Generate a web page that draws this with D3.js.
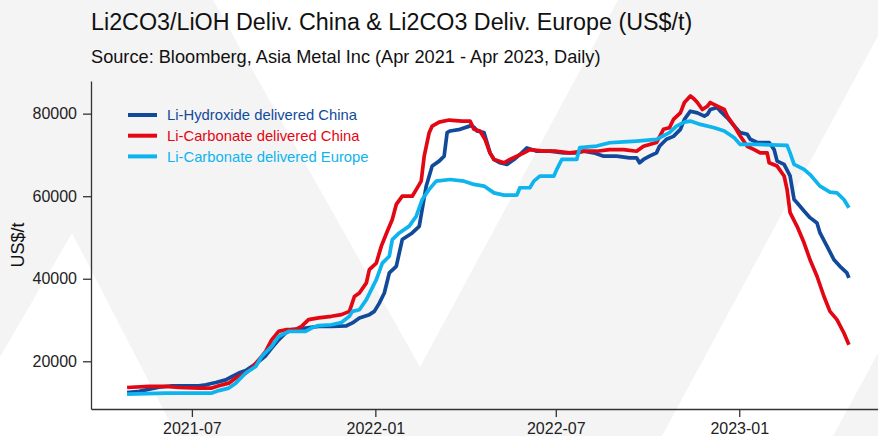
<!DOCTYPE html>
<html>
<head>
<meta charset="utf-8">
<script src="https://cdn.jsdelivr.net/npm/d3@7"></script>
<style>
	body { margin: 0; background: #fff; }
	svg { display: block; font-family: "Liberation Sans", Arial, sans-serif; }
</style>
</head>
<body>
<svg id="chart" width="878" height="436"></svg>
<script>
// Series, [date, US$/t]
const hydroxide = [
	["2021-04-27", 12400], ["2021-05-09", 12700], ["2021-05-29", 13700], ["2021-06-11", 14050],
	["2021-07-08", 14050], ["2021-07-15", 14300], ["2021-07-25", 14850], ["2021-08-04", 15500],
	["2021-08-10", 16300], ["2021-08-17", 17150], ["2021-08-24", 17750], ["2021-08-30", 18750],
	["2021-09-06", 19950], ["2021-09-13", 21350], ["2021-09-19", 23200], ["2021-09-26", 25200],
	["2021-10-03", 26850], ["2021-10-09", 27650], ["2021-10-23", 28050], ["2021-11-05", 28450],
	["2021-11-18", 28450], ["2021-12-03", 28600], ["2021-12-09", 29300], ["2021-12-16", 30500],
	["2021-12-26", 31300], ["2021-12-31", 32100], ["2022-01-05", 34100], ["2022-01-10", 36550],
	["2022-01-15", 41400], ["2022-01-22", 43000], ["2022-01-28", 49500], ["2022-02-07", 51100],
	["2022-02-14", 52700], ["2022-02-21", 62400], ["2022-02-27", 67300], ["2022-03-06", 68500],
	["2022-03-11", 69700], ["2022-03-14", 75400], ["2022-03-17", 75800], ["2022-03-27", 76200],
	["2022-04-07", 77100], ["2022-04-10", 76700], ["2022-04-13", 75800], ["2022-04-20", 75400],
	["2022-04-23", 73000], ["2022-04-26", 70500], ["2022-04-30", 68900], ["2022-05-06", 68100],
	["2022-05-13", 67700], ["2022-05-20", 68900], ["2022-05-26", 70100], ["2022-06-02", 71700],
	["2022-06-12", 70900], ["2022-06-25", 70900], ["2022-07-09", 70500], ["2022-07-22", 70500],
	["2022-07-29", 70900], ["2022-08-08", 70500], ["2022-08-18", 69700], ["2022-08-31", 69700],
	["2022-09-13", 69300], ["2022-09-20", 69300], ["2022-09-23", 68100], ["2022-09-27", 68900],
	["2022-10-03", 69700], ["2022-10-10", 70500], ["2022-10-13", 72100], ["2022-10-20", 73800],
	["2022-10-27", 74500], ["2022-11-03", 76200], ["2022-11-07", 78600], ["2022-11-13", 80600],
	["2022-11-20", 80200], ["2022-11-27", 79400], ["2022-11-30", 79800], ["2022-12-03", 81000],
	["2022-12-10", 81500], ["2022-12-13", 80600], ["2022-12-20", 79000], ["2022-12-27", 77000],
	["2023-01-02", 75400], ["2023-01-09", 75000], ["2023-01-12", 73800], ["2023-01-19", 73000],
	["2023-01-31", 73000], ["2023-02-05", 71300], ["2023-02-08", 68500], ["2023-02-15", 67700],
	["2023-02-21", 64900], ["2023-02-25", 59200], ["2023-02-28", 58400], ["2023-03-07", 56400],
	["2023-03-13", 54800], ["2023-03-20", 53500], ["2023-03-23", 51100], ["2023-03-30", 47900],
	["2023-04-06", 44600], ["2023-04-12", 43000], ["2023-04-19", 41400], ["2023-04-21", 40200],
]

const carbonateChina = [
	["2021-04-27", 13650], ["2021-05-19", 13900], ["2021-06-05", 13900], ["2021-06-18", 13650],
	["2021-07-08", 13500], ["2021-07-21", 13500], ["2021-07-28", 14050], ["2021-08-07", 14700],
	["2021-08-14", 15950], ["2021-08-24", 17150], ["2021-08-30", 18350], ["2021-09-06", 20350],
	["2021-09-13", 22400], ["2021-09-19", 25200], ["2021-09-26", 27250], ["2021-10-03", 27650],
	["2021-10-13", 27650], ["2021-10-19", 28450], ["2021-10-26", 30100], ["2021-11-05", 30500],
	["2021-11-18", 30900], ["2021-11-28", 31300], ["2021-12-06", 32100], ["2021-12-11", 35700],
	["2021-12-16", 36550], ["2021-12-23", 39000], ["2021-12-26", 42200], ["2022-01-02", 43800],
	["2022-01-07", 47900], ["2022-01-13", 51500], ["2022-01-18", 54350], ["2022-01-22", 58000],
	["2022-01-28", 60000], ["2022-02-07", 60000], ["2022-02-11", 61600], ["2022-02-16", 63650],
	["2022-02-19", 69700], ["2022-02-24", 75400], ["2022-02-27", 77000], ["2022-03-06", 77950],
	["2022-03-16", 78450], ["2022-03-29", 78200], ["2022-04-06", 78200], ["2022-04-10", 76200],
	["2022-04-16", 75800], ["2022-04-21", 73800], ["2022-04-26", 70500], ["2022-04-30", 68900],
	["2022-05-10", 68100], ["2022-05-16", 68900], ["2022-05-23", 69700], ["2022-05-30", 70500],
	["2022-06-05", 71300], ["2022-06-19", 70900], ["2022-07-02", 70900], ["2022-07-15", 70500],
	["2022-07-29", 70900], ["2022-08-11", 70900], ["2022-08-24", 71300], ["2022-09-07", 71300],
	["2022-09-20", 70900], ["2022-09-27", 72100], ["2022-10-10", 73000], ["2022-10-17", 76200],
	["2022-10-23", 76600], ["2022-10-27", 78600], ["2022-11-03", 80200], ["2022-11-07", 82700],
	["2022-11-13", 84300], ["2022-11-17", 83500], ["2022-11-20", 82700], ["2022-11-25", 81000],
	["2022-11-30", 81800], ["2022-12-03", 82700], ["2022-12-10", 81800], ["2022-12-17", 81000],
	["2022-12-20", 79400], ["2022-12-27", 77000], ["2023-01-02", 74600], ["2023-01-09", 72100],
	["2023-01-16", 71300], ["2023-01-22", 70500], ["2023-01-29", 70500], ["2023-01-31", 68100],
	["2023-02-08", 67300], ["2023-02-15", 64900], ["2023-02-18", 61600], ["2023-02-21", 56000],
	["2023-02-28", 52700], ["2023-03-07", 48700], ["2023-03-13", 44600], ["2023-03-20", 40600],
	["2023-03-27", 35700], ["2023-04-02", 32100], ["2023-04-09", 30100], ["2023-04-16", 26850],
	["2023-04-21", 24000],
]

const carbonateEurope = [
	["2021-04-27", 12050], ["2021-06-05", 12300], ["2021-07-21", 12300], ["2021-07-28", 12900],
	["2021-08-07", 13500], ["2021-08-14", 14700], ["2021-08-24", 17150], ["2021-09-03", 18750],
	["2021-09-09", 21150], ["2021-09-19", 23600], ["2021-09-26", 26000], ["2021-10-06", 27250],
	["2021-10-23", 27250], ["2021-10-29", 28050], ["2021-11-05", 28650], ["2021-11-18", 28850],
	["2021-11-28", 29400], ["2021-12-06", 30900], ["2021-12-09", 32100], ["2021-12-16", 32500],
	["2021-12-23", 34950], ["2021-12-28", 37350], ["2022-01-02", 39800], ["2022-01-08", 43800],
	["2022-01-15", 45450], ["2022-01-18", 49500], ["2022-01-25", 51100], ["2022-02-04", 52750],
	["2022-02-11", 55150], ["2022-02-17", 59200], ["2022-02-24", 61650], ["2022-03-03", 63650],
	["2022-03-17", 64050], ["2022-03-31", 63650], ["2022-04-10", 62850], ["2022-04-20", 62450],
	["2022-04-30", 60800], ["2022-05-10", 60250], ["2022-05-23", 60250], ["2022-05-26", 62050],
	["2022-06-05", 62050], ["2022-06-09", 63650], ["2022-06-15", 64850], ["2022-06-29", 64850],
	["2022-07-02", 66500], ["2022-07-07", 68900], ["2022-07-22", 68900], ["2022-07-25", 71750],
	["2022-08-11", 72150], ["2022-08-24", 72950], ["2022-09-07", 73150], ["2022-09-20", 73350],
	["2022-10-10", 73750], ["2022-10-23", 75400], ["2022-10-30", 77000], ["2022-11-07", 77950],
	["2022-11-13", 78200], ["2022-11-23", 77400], ["2022-12-07", 76600], ["2022-12-17", 75800],
	["2022-12-27", 74150], ["2023-01-02", 72550], ["2023-01-19", 72550], ["2023-02-18", 72300],
	["2023-02-21", 70500], ["2023-02-25", 67700], ["2023-03-07", 66500], ["2023-03-13", 65250],
	["2023-03-23", 62450], ["2023-04-02", 61000], ["2023-04-09", 60800], ["2023-04-16", 59200],
	["2023-04-21", 57200],
]

const seriesNames = ["Li-Hydroxide delivered China", "Li-Carbonate delivered China", "Li-Carbonate delivered Europe"]
const seriesColours = ["#124a9b", "#e30613", "#0db4ee"]
const yTicks = [20000, 40000, 60000, 80000]
const xTicks = ["2021-07-01", "2022-01-01", "2022-07-01", "2023-01-01"]

const parse = d3.timeParse("%Y-%m-%d")
const series = [hydroxide, carbonateChina, carbonateEurope].map((rows, i) => ({
	name: seriesNames[i],
	colour: seriesColours[i],
	values: rows.map(([d, v]) => ({ date: parse(d), value: v })),
}))

const width = 878
const height = 436
const panel = { left: 91, right: 885, top: 81, bottom: 409 }

const svg = d3.select("#chart")

// Background: light grey with white chevrons
svg.append("rect")
	.attr("width", width)
	.attr("height", height)
	.attr("fill", "#f4f4f4")
const shapes = [
	[[213, 0], [618, 0], [420, 367]],
	[[72, 233], [177, 436], [0, 436], [0, 357]],
	[[662, 436], [833, 436], [878, 353], [878, 36]],
]
svg.append("g")
	.selectAll("polygon")
	.data(shapes)
	.join("polygon")
	.attr("points", d => d.map(p => p.join(",")).join(" "))
	.attr("fill", "#fff")

// Scales with ggplot-style 5% expansion
const all = series.flatMap(s => s.values)
const expand = (lo, hi) => [lo - (hi - lo) * 0.05, hi + (hi - lo) * 0.05]
const [d0, d1] = d3.extent(all, d => d.date)
const [xLo, xHi] = expand(+d0, +d1)
const [yLo, yHi] = expand(...d3.extent(all, d => d.value))

const x = d3.scaleTime()
	.domain([new Date(xLo), new Date(xHi)])
	.range([panel.left, panel.right])
const y = d3.scaleLinear()
	.domain([yLo, yHi])
	.range([panel.bottom, panel.top])

// Titles
svg.append("text")
	.attr("x", 91)
	.attr("y", 30)
	.attr("font-size", 23.3)
	.attr("fill", "#111")
	.text("Li2CO3/LiOH Deliv. China & Li2CO3 Deliv. Europe (US$/t)")
svg.append("text")
	.attr("x", 91)
	.attr("y", 63)
	.attr("font-size", 18.2)
	.attr("fill", "#111")
	.text("Source: Bloomberg, Asia Metal Inc (Apr 2021 - Apr 2023, Daily)")

// Lines
const line = d3.line()
	.x(d => x(d.date))
	.y(d => y(d.value))
svg.append("g")
	.selectAll("path")
	.data(series)
	.join("path")
	.attr("d", d => line(d.values))
	.attr("fill", "none")
	.attr("stroke", d => d.colour)
	.attr("stroke-width", 3.7)
	.attr("stroke-linejoin", "round")

// Axes
const styleAxis = g => {
	g.selectAll("path, line")
		.attr("stroke", "#333")
		.attr("stroke-width", 1.3)
	g.selectAll("text")
		.attr("font-size", 16)
		.attr("fill", "#222")
		.attr("font-family", "Liberation Sans, Arial, sans-serif")
}
svg.append("g")
	.attr("transform", `translate(${panel.left},0)`)
	.call(d3.axisLeft(y)
		.tickValues(yTicks)
		.tickFormat(d3.format("d"))
		.tickSize(8)
		.tickSizeOuter(0)
		.tickPadding(6))
	.call(styleAxis)
svg.append("g")
	.attr("transform", `translate(0,${panel.bottom})`)
	.call(d3.axisBottom(x)
		.tickValues(xTicks.map(parse))
		.tickFormat(d3.timeFormat("%Y-%m"))
		.tickSize(8)
		.tickSizeOuter(0)
		.tickPadding(6))
	.call(styleAxis)

svg.append("text")
	.attr("transform", `translate(24,${(panel.top + panel.bottom) / 2}) rotate(-90)`)
	.attr("text-anchor", "middle")
	.attr("font-size", 18)
	.attr("fill", "#111")
	.text("US$/t")

// Legend
const legend = svg.append("g")
	.selectAll("g")
	.data(series)
	.join("g")
	.attr("transform", (d, i) => `translate(128,${115 + i * 20.7})`)
legend.append("line")
	.attr("x1", 0)
	.attr("x2", 29)
	.attr("stroke", d => d.colour)
	.attr("stroke-width", 4)
legend.append("text")
	.attr("x", 39)
	.attr("dy", "0.35em")
	.attr("font-size", 14.8)
	.attr("fill", d => d.colour)
	.text(d => d.name)
</script>
</body>
</html>
